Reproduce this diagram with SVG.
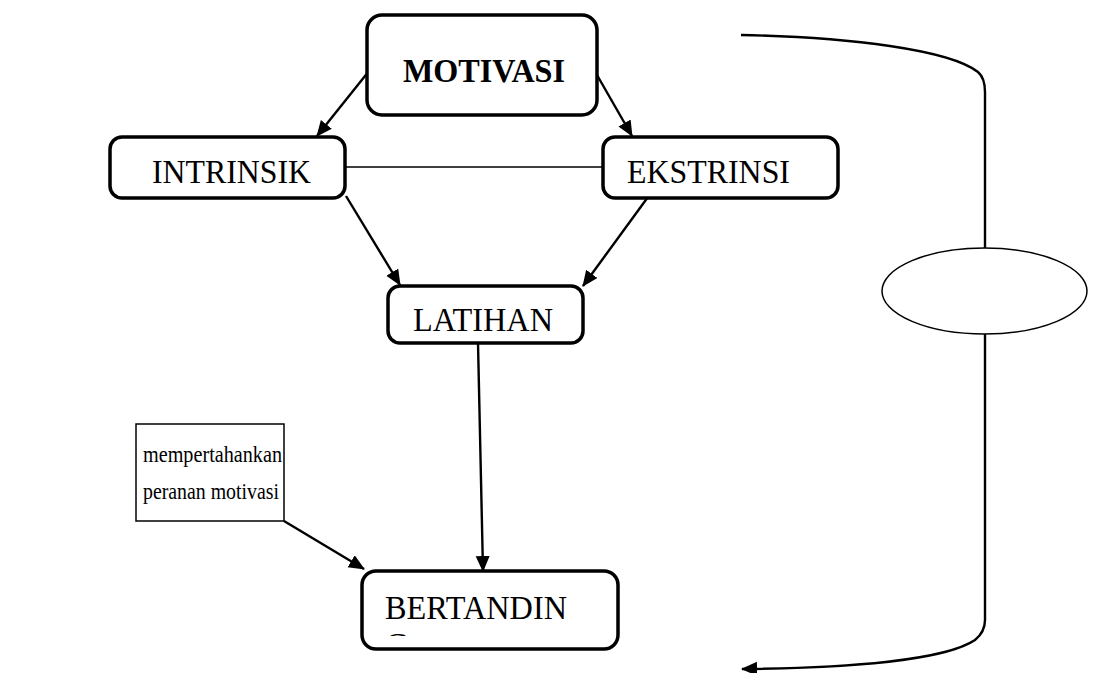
<svg xmlns="http://www.w3.org/2000/svg" width="1095" height="673" viewBox="0 0 1095 673">
<style>
.node{fill:#fff;stroke:#000;stroke-width:3.5}
.note{fill:#fff;stroke:#000;stroke-width:1.5}
.lbl{font-family:"Liberation Serif","Times New Roman",serif;font-size:33px;fill:#000}
.small{font-family:"Liberation Serif","Times New Roman",serif;font-size:24px;fill:#000}
.con{fill:none;stroke:#000;stroke-width:2.4}
.thin{fill:none;stroke:#000;stroke-width:1.5}
</style>
<defs>
<marker id="ah" markerUnits="userSpaceOnUse" markerWidth="18" markerHeight="16" refX="15" refY="7" orient="auto">
<path d="M0,0 L16,7 L0,14 Z" fill="#000"/>
</marker>
<clipPath id="bclip"><rect x="360" y="570" width="260" height="66"/></clipPath>
</defs>
<rect width="1095" height="673" fill="#fff"/>
<g id="connectors">
<line class="thin" x1="345" y1="167" x2="603" y2="167"/>
<line class="con" x1="369" y1="71" x2="317" y2="136" marker-end="url(#ah)"/>
<line class="con" x1="597" y1="75" x2="632" y2="136" marker-end="url(#ah)"/>
<line class="con" x1="346" y1="196" x2="400" y2="285" marker-end="url(#ah)"/>
<line class="con" x1="648" y1="197" x2="583" y2="286" marker-end="url(#ah)"/>
<line class="con" x1="478" y1="343" x2="483" y2="571" marker-end="url(#ah)"/>
<line class="con" x1="284" y1="521" x2="364" y2="569" marker-end="url(#ah)"/>
<path class="con" d="M741,35 C850,37 950,50 978,72 Q985,78 985,92 V248"/>
<path class="con" d="M985,334 V620 Q985,632 975,640 C945,660 850,668 742,669" marker-end="url(#ah)"/>
</g>
<g id="motivasi">
<rect class="node" x="367" y="15" width="230" height="100" rx="15"/>
<text class="lbl" x="403" y="82" font-weight="bold" textLength="162" lengthAdjust="spacingAndGlyphs">MOTIVASI</text>
</g>
<g id="intrinsik">
<rect class="node" x="110" y="137" width="235" height="61" rx="12"/>
<text class="lbl" x="152" y="183" textLength="159" lengthAdjust="spacingAndGlyphs">INTRINSIK</text>
</g>
<g id="ekstrinsi">
<rect class="node" x="603" y="137" width="235" height="61" rx="12"/>
<text class="lbl" x="627" y="183" textLength="163" lengthAdjust="spacingAndGlyphs">EKSTRINSI</text>
</g>
<g id="latihan">
<rect class="node" x="388" y="286" width="195" height="57" rx="12"/>
<text class="lbl" x="413" y="331" textLength="140" lengthAdjust="spacingAndGlyphs">LATIHAN</text>
</g>
<g id="bertanding">
<rect class="node" x="362" y="571" width="256" height="78" rx="14"/>
<text class="lbl" x="385" y="619" textLength="182" lengthAdjust="spacingAndGlyphs">BERTANDIN</text>
<text class="lbl" x="385" y="656" clip-path="url(#bclip)">G</text>
</g>
<g id="note">
<rect class="note" x="136" y="424" width="148" height="97"/>
<text class="small" x="143" y="462" textLength="139" lengthAdjust="spacingAndGlyphs">mempertahankan</text>
<text class="small" x="143" y="499" textLength="136" lengthAdjust="spacingAndGlyphs">peranan motivasi</text>
</g>
<g id="ellipse">
<ellipse cx="984.5" cy="291" rx="102.5" ry="43" fill="#fff" stroke="#000" stroke-width="1.5"/>
</g>
</svg>
